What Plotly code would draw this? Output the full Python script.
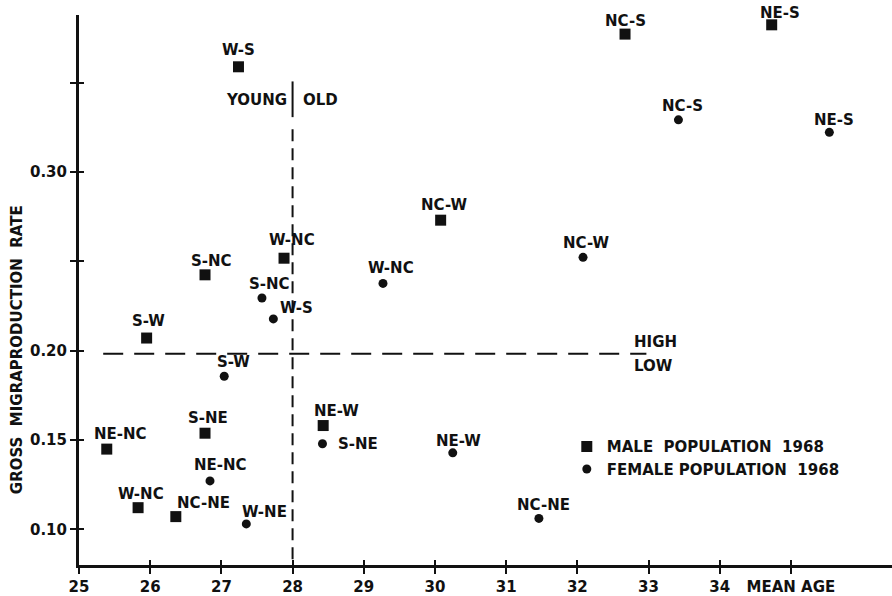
import plotly.graph_objects as go

# Mean age of migrants vs. gross migraproduction rate, by region pair (1968)
male_labels = ["W-S", "S-NC", "W-NC", "S-W", "S-NE", "NE-NC", "W-NC", "NC-NE",
               "NC-W", "NC-S", "NE-S", "NE-W"]
male_age = [27.24, 26.77, 27.88, 25.95, 26.77, 25.39, 25.83, 26.36,
            30.08, 32.67, 34.73, 28.43]
male_rate = [0.359, 0.2425, 0.2518, 0.2071, 0.1538, 0.1449, 0.1121, 0.1071,
             0.2731, 0.3773, 0.3825, 0.1581]

female_labels = ["S-NC", "W-S", "S-W", "NE-NC", "W-NE", "W-NC", "NC-W", "NC-S",
                 "NE-S", "S-NE", "NE-W", "NC-NE"]
female_age = [27.57, 27.73, 27.04, 26.84, 27.35, 29.27, 32.08, 33.42,
              35.54, 28.42, 30.25, 31.46]
female_rate = [0.2295, 0.2178, 0.1857, 0.1271, 0.1030, 0.2377, 0.2523, 0.3293,
               0.3223, 0.1479, 0.1428, 0.1061]

x_ticks = [25, 26, 27, 28, 29, 30, 31, 32, 33, 34, 35]
x_tick_text = ["25", "26", "27", "28", "29", "30", "31", "32", "33", "34", "MEAN AGE"]
y_ticks = [0.10, 0.15, 0.20, 0.25, 0.30, 0.35]
y_tick_text = ["0.10", "0.15", "0.20", "", "0.30", ""]

age_split = 28.0      # young / old boundary
rate_split = 0.1983   # high / low boundary

# label placement (pixel shifts from each marker: right, up)
male_label_shift = [(0, 17), (6, 14), (8, 18), (2, 17), (3, 15), (14, 15), (3, 14),
                    (28, 14), (3, 15), (0, 13), (8, 12), (13, 15)]
female_label_shift = [(8, 14), (23, 11), (9, 14), (11, 16), (18, 12), (8, 15), (3, 14),
                      (4, 14), (5, 12), (36, 0), (6, 12), (5, 13)]

INK = "#111111"
FONT = "DejaVu Sans"
FS = 15
X_RANGE = [25, 36.42]
Y_RANGE = [0.08, 0.388]


def txt_font(size=FS):
    return dict(family=FONT, size=size, color=INK, weight="bold")


fig = go.Figure()
fig.add_trace(go.Scatter(
    x=male_age, y=male_rate, mode="markers",
    name="MALE\u00a0\u00a0POPULATION\u00a0\u00a01968",
    marker=dict(symbol="square", size=11, color=INK),
))
fig.add_trace(go.Scatter(
    x=female_age, y=female_rate, mode="markers",
    name="FEMALE POPULATION\u00a0\u00a01968",
    marker=dict(symbol="circle", size=9, color=INK),
))
# empty trace that puts the companion (inner-tick) axes on the page
fig.add_trace(go.Scatter(x=[None], y=[None], xaxis="x2", yaxis="y2",
                         showlegend=False, hoverinfo="skip"))

annotations = []
for labels, xs, ys, shifts in ((male_labels, male_age, male_rate, male_label_shift),
                               (female_labels, female_age, female_rate, female_label_shift)):
    for lab, xv, yv, (dx, dy) in zip(labels, xs, ys, shifts):
        annotations.append(dict(
            x=xv, y=yv, text=lab, showarrow=False, xanchor="center", yanchor="middle",
            xshift=dx, yshift=dy, font=txt_font(),
        ))

# quadrant captions and y-axis title
annotations += [
    dict(x=age_split, y=0.3405, text="YOUNG", showarrow=False, xanchor="right",
         xshift=-4, font=txt_font()),
    dict(x=age_split, y=0.3405, text="OLD", showarrow=False, xanchor="left",
         xshift=8, font=txt_font()),
    dict(x=32.77, y=rate_split, text="HIGH", showarrow=False, xanchor="left",
         yshift=12, font=txt_font()),
    dict(x=32.77, y=rate_split, text="LOW", showarrow=False, xanchor="left",
         yshift=-12, font=txt_font()),
    dict(x=-0.076, y=0.391, xref="paper", yref="paper",
         text="GROSS\u00a0\u00a0MIGRAPRODUCTION\u00a0\u00a0RATE",
         textangle=-90, showarrow=False, xanchor="center", yanchor="middle",
         font=txt_font()),
]

shapes = [
    # vertical divider: solid head, dashed below
    dict(type="line", x0=age_split, x1=age_split, y0=0.3508, y1=0.3308,
         line=dict(color=INK, width=2)),
    dict(type="line", x0=age_split, x1=age_split, y0=0.3240, y1=Y_RANGE[0],
         line=dict(color=INK, width=2, dash="12px,7px")),
    # horizontal divider
    dict(type="line", x0=25.34, x1=32.97, y0=rate_split, y1=rate_split,
         line=dict(color=INK, width=2, dash="20px,11px")),
]

axis_common = dict(showgrid=False, zeroline=False, showline=True, linecolor=INK,
                   linewidth=3, tickcolor=INK, tickwidth=2, tickfont=txt_font())

fig.update_layout(
    width=892, height=596,
    margin=dict(l=79, r=0, t=15, b=29),
    paper_bgcolor="white", plot_bgcolor="white",
    showlegend=True,
    legend=dict(x=0.600, y=0.245, xanchor="left", yanchor="top",
                font=txt_font(), bgcolor="rgba(0,0,0,0)",
                itemwidth=30, tracegroupgap=0),
    annotations=annotations,
    shapes=shapes,
    xaxis=dict(range=X_RANGE, tickvals=x_ticks, ticktext=x_tick_text,
               ticks="outside", ticklen=6, **axis_common),
    yaxis=dict(range=Y_RANGE, tickvals=y_ticks, ticktext=y_tick_text,
               ticks="outside", ticklen=6, **axis_common),
    # companion axes carry the inner half of each tick mark
    xaxis2=dict(overlaying="x", range=X_RANGE, tickvals=x_ticks,
                ticks="inside", ticklen=5, showticklabels=False, side="bottom",
                anchor="y2", **axis_common),
    yaxis2=dict(overlaying="y", range=Y_RANGE, tickvals=y_ticks,
                ticks="inside", ticklen=5, showticklabels=False, side="left",
                anchor="x2", **axis_common),
)

fig.write_html("out.html")
